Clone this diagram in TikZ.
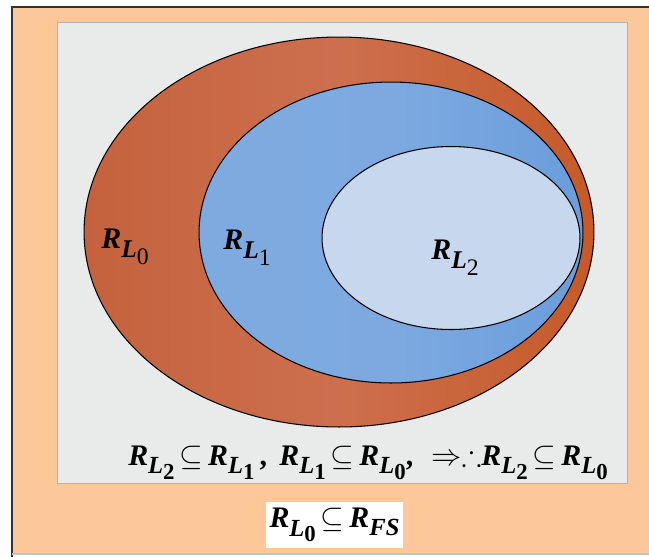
\documentclass[tikz,border=0pt]{standalone}
\usepackage{amssymb}
\usepackage{fontspec}
\setmainfont{Liberation Serif}
\usetikzlibrary{shapes.geometric}
\definecolor{framebg}{HTML}{FDC899}
\definecolor{panelbg}{HTML}{E9EBEA}
\definecolor{panelrim}{HTML}{B0B4B4}
\definecolor{orL}{HTML}{C4623D}
\definecolor{orM}{HTML}{CD6F4E}
\definecolor{orR}{HTML}{C65A28}
\definecolor{blL}{HTML}{7EAAE0}
\definecolor{blR}{HTML}{6B9DDC}
\definecolor{lightin}{HTML}{C6D7EE}
\newcommand{\RLab}[1]{R\raisebox{-0.3em}{\fontsize{14.5}{16}\selectfont L\raisebox{-0.28em}{\fontsize{13.5}{15}\selectfont\upshape\mdseries #1}}}
\newcommand{\RBot}[1]{R\raisebox{-0.28em}{\fontsize{14}{16}\selectfont L\raisebox{-0.22em}{\fontsize{13}{15}\selectfont\upshape #1}}}
\newcommand{\RFS}{R\raisebox{-0.25em}{\fontsize{14}{16}\selectfont FS}}
\tikzset{
  setshape/.style={ellipse, draw=black, line width=0.6pt, inner sep=0pt},
  lab/.style={font=\fontsize{17}{20}\selectfont\bfseries\itshape, inner sep=0pt},
}
\begin{document}
\begin{tikzpicture}[x=0.02cm,y=-0.02cm]
\useasboundingbox (0,0) rectangle (649,556);
% outer frame
\fill[white] (0,0) rectangle (649,556);
\fill[framebg] (12,7) rectangle (655,554);
\draw[black!80, line width=0.9pt] (12,562) -- (12,7) -- (655,7);
\draw[panelrim!80, line width=0.8pt] (12,554) -- (655,554);
% panel
\draw[panelrim, line width=1pt, fill=panelbg] (57.5,22.5) rectangle (627.5,483.5);
% sets
\node[setshape, minimum width=10.2cm, minimum height=7.8cm,
      left color=orL, right color=orR, middle color=orM] (l0) at (339,232) {};
\node[setshape, minimum width=7.68cm, minimum height=6.02cm,
      left color=blL, right color=blR, middle color=blL!95!blR] (l1) at (391,232.5) {};
\node[setshape, minimum width=5.16cm, minimum height=3.66cm, fill=lightin] (l2) at (451,238) {};
% labels
\node[lab] (t0) at (125,247) {\RLab{0}};
\node[lab] (t1) at (247,248) {\RLab{1}};
\node[lab] (t2) at (455,258) {\RLab{2}};
% bottom formula
\node[lab] (rel) at (368,462)
  {\RBot{2}\,$\subseteq$\,\RBot{1}\,\upshape,\, \itshape\RBot{1}\,$\subseteq$\,\RBot{0}\upshape,\hspace{0.6em}$\Rightarrow\therefore$\itshape\RBot{2}\,$\subseteq$\,\RBot{0}};
% white box
\node[fill=white, minimum width=2.74cm, minimum height=0.92cm, inner sep=0pt] (fsbox) at (334.5,525) {};
\node[lab] (fs) at (fsbox) {\RBot{0}\,$\subseteq$\,\RFS};
\end{tikzpicture}
\end{document}
